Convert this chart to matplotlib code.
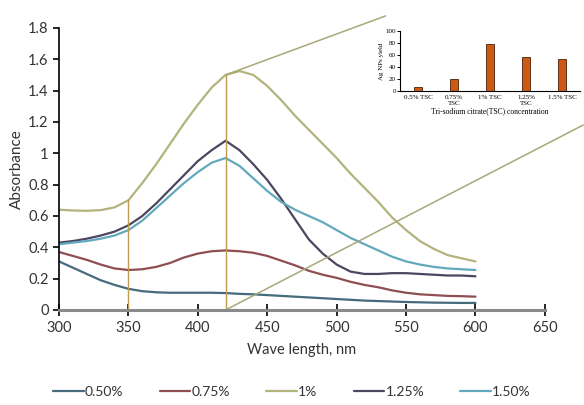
import matplotlib
matplotlib.use("Agg")
import matplotlib.pyplot as plt

plt.rcParams['font.family'] = ['Lato', 'DejaVu Sans']

# ---- data ----
wavelength = [300, 310, 320, 330, 340, 350, 360, 370, 380, 390, 400, 410, 420, 430, 440,
              450, 460, 470, 480, 490, 500, 510, 520, 530, 540, 550, 560, 570, 580, 590, 600]

abs_050 = [0.31, 0.27, 0.23, 0.19, 0.16, 0.135, 0.12, 0.113, 0.11, 0.11, 0.11, 0.11, 0.108, 0.103, 0.10,
           0.095, 0.09, 0.085, 0.08, 0.075, 0.07, 0.065, 0.06, 0.057, 0.054, 0.051, 0.049, 0.047, 0.046, 0.045, 0.045]
abs_075 = [0.37, 0.345, 0.32, 0.29, 0.265, 0.255, 0.26, 0.275, 0.30, 0.335, 0.36, 0.375, 0.38, 0.375, 0.365,
           0.345, 0.315, 0.285, 0.25, 0.225, 0.205, 0.18, 0.16, 0.145, 0.125, 0.11, 0.10, 0.095, 0.09, 0.088, 0.085]
abs_100 = [0.64, 0.635, 0.633, 0.637, 0.655, 0.70, 0.81, 0.93, 1.06, 1.19, 1.31, 1.42, 1.50, 1.525, 1.50,
           1.43, 1.34, 1.24, 1.15, 1.06, 0.97, 0.87, 0.78, 0.69, 0.59, 0.51, 0.44, 0.39, 0.35, 0.33, 0.31]
abs_125 = [0.43, 0.44, 0.455, 0.475, 0.50, 0.54, 0.60, 0.68, 0.77, 0.86, 0.95, 1.02, 1.08, 1.02, 0.93,
           0.83, 0.71, 0.58, 0.45, 0.36, 0.29, 0.245, 0.23, 0.23, 0.235, 0.235, 0.23, 0.225, 0.22, 0.22, 0.215]
abs_150 = [0.42, 0.43, 0.44, 0.455, 0.475, 0.51, 0.57, 0.65, 0.73, 0.81, 0.88, 0.94, 0.97, 0.92, 0.84,
           0.76, 0.69, 0.64, 0.60, 0.56, 0.51, 0.46, 0.42, 0.38, 0.34, 0.31, 0.29, 0.275, 0.265, 0.26, 0.255]

series_labels = ['0.50%', '0.75%', '1%', '1.25%', '1.50%']
series_colors = ['#456b7c', '#8e4e52', '#b3b37e', '#4d4660', '#62a9bd']

# inset bar chart
tsc_labels = ['0.5% TSC', '0.75%\nTSC', '1% TSC', '1.25%\nTSC', '1.5% TSC']
tsc_yield = [7, 21, 78, 57, 54]

# annotation points
marker_x = [350, 420]
marker_y = [0.70, 1.50]

fig = plt.figure(figsize=(5.84, 4.05), dpi=100)
ax = fig.add_axes([0.101, 0.2346, 0.832, 0.6964])

for y, lab, c in zip([abs_050, abs_075, abs_100, abs_125, abs_150], series_labels, series_colors):
    ax.plot(wavelength, y, color=c, lw=1.6, label=lab, solid_capstyle='round', solid_joinstyle='round')

# vertical markers
for mx, my in zip(marker_x, marker_y):
    ax.plot([mx, mx], [0, my], color='#c09a50', lw=1.0)

# zoom connector lines
ax.plot([420, 535], [1.50, 1.876], color='#a8a878', lw=1.1, clip_on=False)
ax.plot([420, 677.5], [0.0, 1.18], color='#a8a878', lw=1.1, clip_on=False)

ax.set_xlim(300, 650)
ax.set_ylim(0, 1.8)
ax.set_xticks([300, 350, 400, 450, 500, 550, 600, 650])
ax.set_yticks([0, 0.2, 0.4, 0.6, 0.8, 1.0, 1.2, 1.4, 1.6, 1.8])
ax.set_yticklabels(['0', '0.2', '0.4', '0.6', '0.8', '1', '1.2', '1.4', '1.6', '1.8'])
for s in ['top', 'right']:
    ax.spines[s].set_visible(False)
ax.spines['left'].set_color('black')
ax.spines['left'].set_linewidth(1.2)
ax.spines['bottom'].set_color('#8a8a8a')
ax.spines['bottom'].set_linewidth(2.2)
ax.tick_params(axis='x', direction='inout', length=8, width=1.2, color='black',
               labelsize=10.5, labelcolor='#333333', pad=4)
ax.tick_params(axis='y', direction='out', length=4, width=1.2, color='black',
               labelsize=10.5, labelcolor='#333333')
ax.set_xlabel('Wave length, nm', fontsize=10.5, color='#333333', labelpad=6)
ax.set_ylabel('Absorbance', fontsize=11, color='#333333', labelpad=3)

fig.legend(loc='center', bbox_to_anchor=(0.5, 0.032), ncol=5, frameon=False,
           handlelength=2.2, columnspacing=2.6, handletextpad=0.1, fontsize=10,
           labelcolor='#333333')

# inset
ins = fig.add_axes([0.685, 0.775, 0.308, 0.148])
ins.bar(range(len(tsc_yield)), tsc_yield, width=0.22, color='#cc5a14', edgecolor='#4a2008', lw=0.6)
ins.set_xlim(-0.5, 4.5)
ins.set_ylim(0, 100)
ins.set_yticks([0, 20, 40, 60, 80, 100])
ins.set_xticks(range(len(tsc_labels)))
ins.set_xticklabels(tsc_labels, fontsize=5, family='Liberation Serif', linespacing=1.1)
for t in ins.get_yticklabels():
    t.set_family('Liberation Serif')
    t.set_fontsize(5)
for s in ['top', 'right']:
    ins.spines[s].set_visible(False)
ins.spines['left'].set_linewidth(0.8)
ins.spines['bottom'].set_linewidth(0.8)
ins.tick_params(axis='x', length=0, pad=3)
ins.tick_params(axis='y', length=2, width=0.7, pad=1)
ins.set_ylabel('Ag NPs yield', fontsize=5, family='Liberation Serif', labelpad=1)
ins.set_xlabel('Tri-sodium citrate(TSC) concentration', fontsize=5.5,
               family='Liberation Serif', labelpad=1)
ins.patch.set_alpha(0)

fig.savefig('out.png', dpi=100)
